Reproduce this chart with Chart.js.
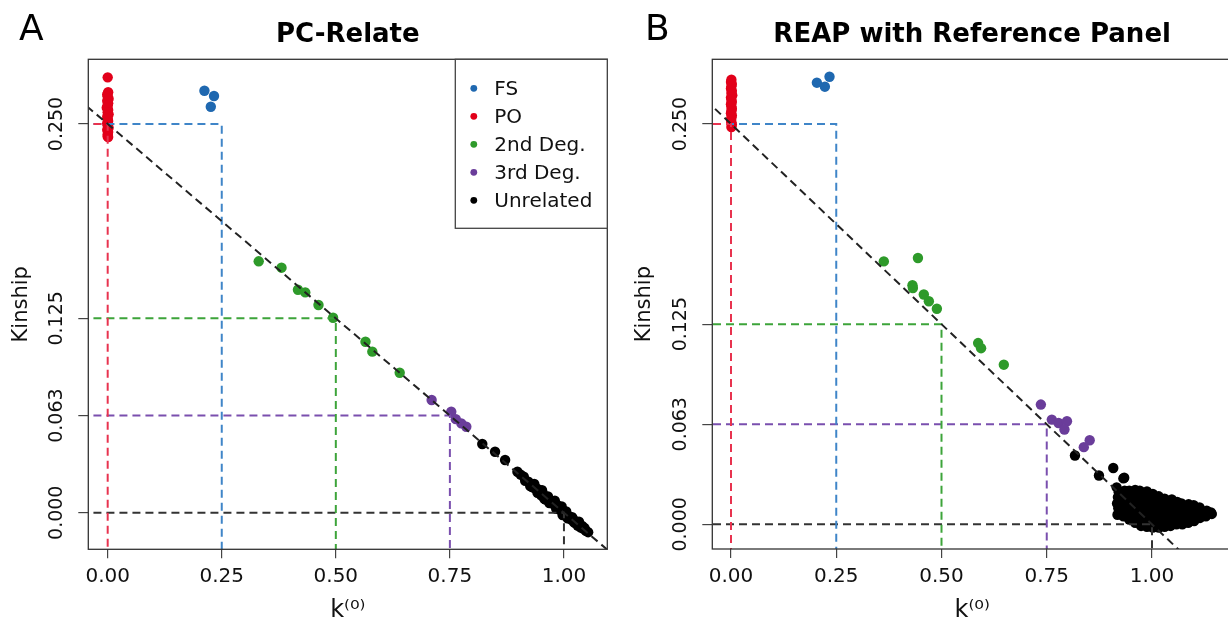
<!DOCTYPE html>
<html>
<head>
<meta charset="utf-8">
<script src="https://cdn.jsdelivr.net/npm/chart.js@4.4.0/dist/chart.umd.min.js"></script>
<style>
html,body{margin:0;padding:0;background:#fff;overflow:hidden;width:1228px;height:624px;position:relative;}
#wrapA{position:absolute;left:0;top:0;width:614px;height:624px;}
#wrapB{position:absolute;left:614px;top:0;width:630px;height:624px;}
</style>
</head>
<body>
<div id="wrapA"><canvas id="cA"></canvas></div>
<div id="wrapB"><canvas id="cB"></canvas></div>
<script>
// ---------- shared axis / legend data ----------
const xTickValues = [0, 0.25, 0.5, 0.75, 1];
const xTickLabels = ['0.00', '0.25', '0.50', '0.75', '1.00'];
const yTickValues = [0, 0.0625, 0.125, 0.25];
const yTickLabels = ['0.000', '0.063', '0.125', '0.250'];
const groupNames = ['FS', 'PO', '2nd Deg.', '3rd Deg.', 'Unrelated'];
const groupColors = ['#1F68B0', '#E2001A', '#2E9A2A', '#6A3D9A', '#000000'];
const refLineColors = ['#3F85C8', '#E8334F', '#3DA43A', '#7A4FAE', '#333333'];
const expectedK0 = [0.25, 0, 0.5, 0.75, 1];
const expectedKin = [0.25, 0.25, 0.125, 0.0625, 0];
const diagK0 = [-1, 2];
const diagKin = [0.5, -0.25];
const panelTitles = ['PC-Relate', 'REAP with Reference Panel'];
const panelLetters = ['A', 'B'];
const xAxisTitle = 'k⁽⁰⁾';
const yAxisTitle = 'Kinship';

// ---------- panel A (PC-Relate) ----------
const A_xRange = [-0.0425, 1.095];
const A_yRange = [-0.0235, 0.2916];
const A_FS_k0 = [0.212, 0.233, 0.226];
const A_FS_kin = [0.2714, 0.2680, 0.2611];
const A_PO_k0 = [0.000, 0.001, -0.001, 0.000, 0.002, -0.001, 0.001, 0.000, -0.002, 0.001, 0.000, 0.002, -0.001, 0.000, 0.001, -0.001, 0.000, 0.002, -0.001, 0.001, 0.000, 0.000, 0.001];
const A_PO_kin = [0.2800, 0.2704, 0.2690, 0.2676, 0.2662, 0.2648, 0.2633, 0.2619, 0.2605, 0.2590, 0.2576, 0.2562, 0.2547, 0.2533, 0.2519, 0.2505, 0.2490, 0.2476, 0.2462, 0.2448, 0.2433, 0.2420, 0.2416];
const A_2nd_k0 = [0.331, 0.381, 0.417, 0.433, 0.462, 0.494, 0.565, 0.580, 0.640];
const A_2nd_kin = [0.1617, 0.1576, 0.1434, 0.1417, 0.1336, 0.1254, 0.1100, 0.1036, 0.0900];
const A_3rd_k0 = [0.710, 0.753, 0.763, 0.775, 0.786];
const A_3rd_kin = [0.0725, 0.0650, 0.0602, 0.0575, 0.0553];
const A_UN_k0 = [
  0.821, 0.849, 0.871, 0.898,
  0.905, 0.915, 0.922, 0.930, 0.935, 0.940, 0.945, 0.950, 0.955,
  0.958, 0.962, 0.966, 0.970, 0.974, 0.978, 0.982, 0.986, 0.990, 0.994, 0.998,
  1.002, 1.006, 1.010, 1.015, 1.020, 1.025, 1.030, 1.036, 1.042, 1.048, 1.053,
  0.945, 0.960, 0.975, 0.990, 1.000, 1.010, 0.930, 0.950, 0.970, 0.985, 1.020, 1.030,
  0.935, 0.942, 0.952, 0.957, 0.965, 0.968, 0.980, 0.983, 0.995, 0.997, 1.005, 1.008,
  1.018, 1.022, 1.033, 1.040, 1.045, 0.912, 0.926
];
const A_UN_kin = [
  0.0442, 0.0392, 0.0339, 0.0264,
  0.0245, 0.0205, 0.0200, 0.0182, 0.0158, 0.0156, 0.0131, 0.0130, 0.0118,
  0.0099, 0.0101, 0.0080, 0.0081, 0.0060, 0.0061, 0.0041, 0.0040, 0.0021, 0.0019, 0.0001,
  -0.0001, -0.0019, -0.0021, -0.0042, -0.0046, -0.0066, -0.0071, -0.0093, -0.0101, -0.0116, -0.0125,
  0.0148, 0.0085, 0.0072, 0.0032, -0.0012, -0.0030, 0.0165, 0.0112, 0.0066, 0.0050, -0.0040, -0.0082,
  0.0185, 0.0128, 0.0145, 0.0090, 0.0105, 0.0062, 0.0078, 0.0025, 0.0040, -0.0015, 0.0008, -0.0035,
  -0.0028, -0.0062, -0.0058, -0.0085, -0.0098, 0.0232, 0.0172
];

// ---------- panel B (REAP with Reference Panel) ----------
const B_xRange = [-0.0444, 1.19];
const B_yRange = [-0.0154, 0.2904];
const B_FS_k0 = [0.204, 0.234, 0.223];
const B_FS_kin = [0.2758, 0.2795, 0.2733];
const B_PO_k0 = [0.001, 0.000, 0.002, 0.001, 0.000, 0.002, 0.001, 0.003, 0.000, 0.001, 0.002, 0.000, 0.001, 0.002, 0.001, 0.000, 0.002, 0.001, 0.000, 0.001, 0.002, 0.001];
const B_PO_kin = [0.2777, 0.2763, 0.2749, 0.2735, 0.2721, 0.2707, 0.2693, 0.2679, 0.2665, 0.2651, 0.2637, 0.2623, 0.2609, 0.2595, 0.2581, 0.2567, 0.2553, 0.2539, 0.2525, 0.2511, 0.2497, 0.2481];
const B_2nd_k0 = [0.363, 0.444, 0.431, 0.432, 0.458, 0.470, 0.489, 0.587, 0.594, 0.648];
const B_2nd_kin = [0.1642, 0.1663, 0.1493, 0.1476, 0.1435, 0.1393, 0.1346, 0.1132, 0.1100, 0.0997];
const B_3rd_k0 = [0.736, 0.762, 0.778, 0.798, 0.792, 0.838, 0.852];
const B_3rd_kin = [0.0748, 0.0654, 0.0633, 0.0644, 0.0592, 0.0482, 0.0525];
const B_UN_k0 = [
  0.817, 0.874, 0.908, 0.932, 0.916, 0.934,
  0.918, 0.920, 0.917, 0.919, 0.921,
  0.932, 0.934, 0.931, 0.933, 0.930, 0.935,
  0.946, 0.944, 0.947, 0.945, 0.948, 0.946,
  0.960, 0.962, 0.959, 0.961, 0.958, 0.963, 0.960,
  0.974, 0.972, 0.975, 0.973, 0.976, 0.974, 0.971,
  0.988, 0.990, 0.987, 0.989, 0.986, 0.991, 0.988,
  1.002, 1.000, 1.003, 1.001, 1.004, 0.999, 1.002,
  1.016, 1.018, 1.015, 1.017, 1.014, 1.019, 1.016,
  1.030, 1.028, 1.031, 1.029, 1.032, 1.030,
  1.044, 1.046, 1.043, 1.045, 1.042, 1.047,
  1.058, 1.056, 1.059, 1.057, 1.060,
  1.072, 1.074, 1.071, 1.073, 1.070,
  1.086, 1.088, 1.085, 1.087,
  1.100, 1.098, 1.101, 1.099,
  1.114, 1.116, 1.113,
  1.128, 1.130,
  1.142, 1.140
];
const B_UN_kin = [
  0.0430, 0.0305, 0.0352, 0.0287, 0.0231, 0.0291,
  0.0060, 0.0100, 0.0130, 0.0170, 0.0200,
  0.0050, 0.0080, 0.0120, 0.0150, 0.0190, 0.0210,
  0.0030, 0.0070, 0.0100, 0.0140, 0.0170, 0.0210,
  0.0010, 0.0050, 0.0080, 0.0120, 0.0150, 0.0190, 0.0215,
  -0.0010, 0.0030, 0.0060, 0.0100, 0.0130, 0.0170, 0.0210,
  -0.0015, 0.0020, 0.0050, 0.0090, 0.0120, 0.0160, 0.0205,
  -0.0020, 0.0010, 0.0050, 0.0080, 0.0120, 0.0150, 0.0190,
  -0.0020, 0.0010, 0.0040, 0.0080, 0.0110, 0.0140, 0.0175,
  -0.0015, 0.0020, 0.0050, 0.0090, 0.0120, 0.0160,
  -0.0010, 0.0020, 0.0060, 0.0090, 0.0130, 0.0155,
  0.0000, 0.0030, 0.0070, 0.0100, 0.0140,
  0.0000, 0.0040, 0.0070, 0.0100, 0.0130,
  0.0010, 0.0040, 0.0080, 0.0125,
  0.0020, 0.0050, 0.0090, 0.0120,
  0.0040, 0.0070, 0.0105,
  0.0050, 0.0085,
  0.0065, 0.0075
];

// ---------- helpers ----------
Chart.defaults.font.family = "'DejaVu Sans', 'Liberation Sans', sans-serif";
Chart.defaults.color = '#111';

function pts(xs, ys) { return xs.map((x, i) => ({ x: x, y: ys[i] })); }

const framePlugin = {
  id: 'frame',
  afterDatasetsDraw(chart) {
    const a = chart.chartArea, ctx = chart.ctx;
    ctx.save();
    ctx.strokeStyle = '#333';
    ctx.lineWidth = 1.3;
    ctx.strokeRect(a.left, a.top, a.right - a.left, a.bottom - a.top);
    ctx.restore();
  }
};

const letterPlugin = {
  id: 'panelLetter',
  afterDraw(chart, args, opts) {
    const ctx = chart.ctx;
    ctx.save();
    ctx.font = "36px 'DejaVu Sans', sans-serif";
    ctx.fillStyle = '#000';
    ctx.textBaseline = 'alphabetic';
    ctx.textAlign = 'left';
    ctx.fillText(opts.text, opts.x, opts.y);
    ctx.restore();
  }
};

const boxLegendPlugin = {
  id: 'boxLegend',
  afterDraw(chart, args, opts) {
    if (!opts.show) return;
    const a = chart.chartArea, ctx = chart.ctx;
    const right = a.right, top = a.top;
    const left = right - opts.width, bottom = top + opts.height;
    ctx.save();
    ctx.fillStyle = '#fff';
    ctx.fillRect(left, top, right - left, bottom - top);
    ctx.strokeStyle = '#444';
    ctx.lineWidth = 1.3;
    ctx.strokeRect(left, top, right - left, bottom - top);
    ctx.font = "20px 'DejaVu Sans', sans-serif";
    ctx.textBaseline = 'middle';
    ctx.textAlign = 'left';
    groupNames.forEach((name, i) => {
      const y = top + opts.firstRow + i * opts.rowGap;
      ctx.fillStyle = groupColors[i];
      ctx.beginPath();
      ctx.arc(left + opts.dotX, y, 3.4, 0, Math.PI * 2);
      ctx.fill();
      ctx.fillStyle = '#111';
      ctx.fillText(name, left + opts.textX, y + 1);
    });
    ctx.restore();
  }
};

function refDatasets() {
  const ds = [];
  ds.push({
    type: 'line', data: pts(diagK0, diagKin), showLine: true, pointRadius: 0,
    borderColor: '#222', borderWidth: 2, borderDash: [8, 5], fill: false, tension: 0
  });
  const order = [1, 0, 2, 3, 4];
  order.forEach(g => {
    ds.push({
      type: 'line',
      data: pts([-1, expectedK0[g], expectedK0[g]], [expectedKin[g], expectedKin[g], -1]),
      showLine: true, pointRadius: 0, borderColor: refLineColors[g], borderWidth: 2,
      borderDash: [8, 5], fill: false, tension: 0
    });
  });
  return ds;
}

function scatterSet(g, xs, ys) {
  return {
    type: 'scatter', label: groupNames[g], data: pts(xs, ys),
    backgroundColor: groupColors[g], borderColor: groupColors[g],
    pointRadius: 5.2, pointBorderWidth: 0, pointHoverRadius: 5.2
  };
}

function makeChart(id, p) {
  const datasets = refDatasets().concat([
    scatterSet(0, p.fs[0], p.fs[1]),
    scatterSet(1, p.po[0], p.po[1]),
    scatterSet(2, p.d2[0], p.d2[1]),
    scatterSet(3, p.d3[0], p.d3[1]),
    scatterSet(4, p.un[0], p.un[1])
  ]);
  return new Chart(document.getElementById(id), {
    type: 'scatter',
    data: { datasets: datasets },
    plugins: [framePlugin, letterPlugin, boxLegendPlugin],
    options: {
      responsive: true, maintainAspectRatio: false, animation: false, events: [],
      layout: { padding: { left: 0, right: p.padRight, top: 0, bottom: 0 } },
      plugins: {
        legend: { display: false }, tooltip: { enabled: false },
        title: {
          display: true, text: p.title, fullSize: false, color: '#000',
          font: { size: 26, weight: 'bold' }, padding: { top: 19.4, bottom: 8.7 }
        },
        panelLetter: { text: p.letter, x: p.letterX, y: 39.5 },
        boxLegend: { show: p.legend, width: 152, height: 169, dotX: 18.5, textX: 39, firstRow: 29, rowGap: 28 }
      },
      scales: {
        x: {
          type: 'linear', min: p.xr[0], max: p.xr[1],
          afterBuildTicks: s => { s.ticks = xTickValues.map(v => ({ value: v })); },
          afterFit: s => { s.height = p.xAxisH; },
          ticks: { callback: (v, i) => xTickLabels[i], font: { size: 20 }, color: '#111', padding: 6.5, maxRotation: 0, autoSkip: false },
          grid: { drawOnChartArea: false, drawTicks: true, tickLength: 9, color: '#444', lineWidth: 1.2 },
          border: { display: false },
          title: { display: true, text: xAxisTitle, color: '#111', font: { size: 24, lineHeight: 1.0 }, padding: { top: 0, bottom: 1 } }
        },
        y: {
          type: 'linear', min: p.yr[0], max: p.yr[1],
          afterBuildTicks: s => { s.ticks = yTickValues.map(v => ({ value: v })); },
          afterFit: s => { s.width = p.yAxisW; },
          ticks: { callback: (v, i) => yTickLabels[i], font: { size: 19 }, color: '#111', minRotation: 90, maxRotation: 90, crossAlign: 'center', padding: -6.4, autoSkip: false },
          grid: { drawOnChartArea: false, drawTicks: true, tickLength: 10, color: '#444', lineWidth: 1.2 },
          border: { display: false },
          title: { display: true, text: yAxisTitle, color: '#111', font: { size: 21 }, padding: { top: p.yTitlePad, bottom: 0 } }
        }
      }
    }
  });
}

makeChart('cA', {
  title: panelTitles[0], letter: panelLetters[0], letterX: 19, legend: true,
  xr: A_xRange, yr: A_yRange, padRight: 6.7, xAxisH: 74.7, yAxisW: 88.3, yTitlePad: 9.4,
  fs: [A_FS_k0, A_FS_kin], po: [A_PO_k0, A_PO_kin], d2: [A_2nd_k0, A_2nd_kin],
  d3: [A_3rd_k0, A_3rd_kin], un: [A_UN_k0, A_UN_kin]
});
makeChart('cB', {
  title: panelTitles[1], letter: panelLetters[1], letterX: 31, legend: false,
  xr: B_xRange, yr: B_yRange, padRight: 12, xAxisH: 75, yAxisW: 98.3, yTitlePad: 18.4,
  fs: [B_FS_k0, B_FS_kin], po: [B_PO_k0, B_PO_kin], d2: [B_2nd_k0, B_2nd_kin],
  d3: [B_3rd_k0, B_3rd_kin], un: [B_UN_k0, B_UN_kin]
});
</script>
</body>
</html>
